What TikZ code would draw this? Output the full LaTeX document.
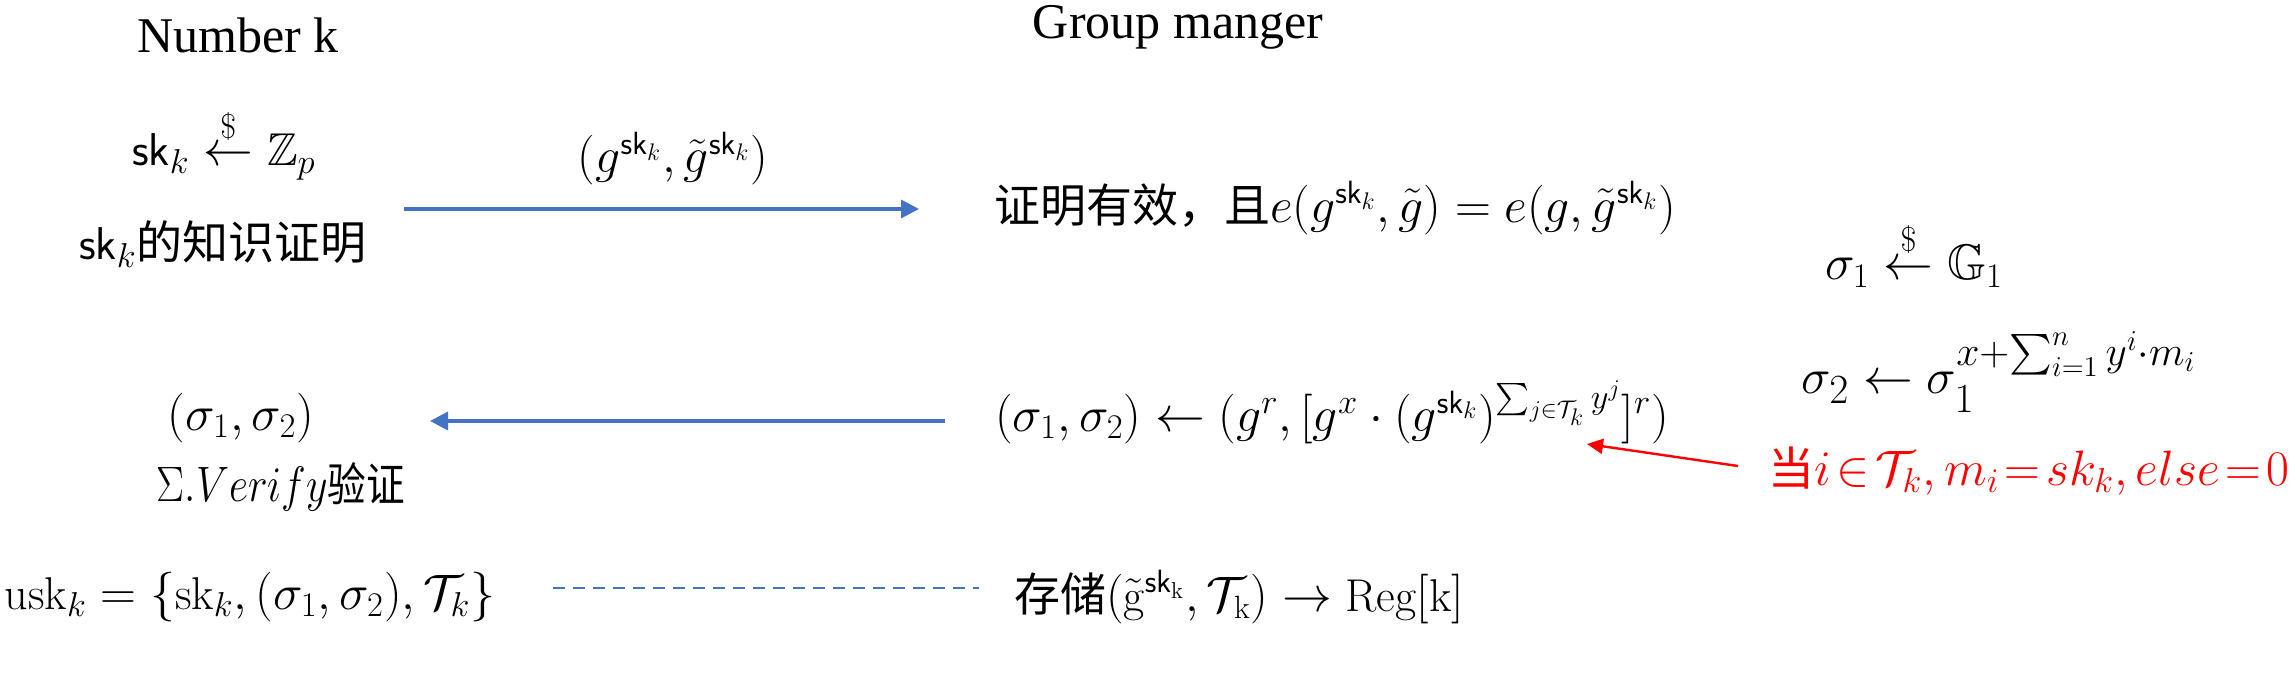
\documentclass[tikz,border=0pt]{standalone}
\usepackage{amsmath,amssymb}
\usepackage{fontspec}
\usetikzlibrary{arrows.meta}
\newfontfamily\cjk{Noto Sans CJK SC}
\newfontfamily\tnr{Liberation Serif}
\definecolor{oblue}{HTML}{4472C4}
\definecolor{ored}{HTML}{FF0000}
\tikzset{
  x=0.5pt, y=-0.5pt,
  title/.style={font=\tnr\fontsize{25}{30}\selectfont, inner sep=0pt},
  txt/.style={font=\fontsize{23}{28}\selectfont, inner sep=0pt},
  ltx/.style={font=\fontsize{25}{30}\selectfont, inner sep=0pt},
  msg/.style={draw=oblue, line width=1.7pt, -{Triangle[length=9pt,width=9pt,fill=oblue]}},
  note/.style={draw=ored, line width=1.2pt, -{Triangle[length=8pt,width=7.5pt,fill=ored]}},
  link/.style={draw=oblue, line width=1.4pt, dash pattern=on 6pt off 4pt}
}
\begin{document}
\begin{tikzpicture}
\useasboundingbox (0,0) rectangle (2294,678);
% headers
\node[title] (nk) at (238,35) {Number k};
\node[title] (gm) at (1178,27) {Group manger};
% user side
\node[txt] (skgen) at (224,144) {$\mathsf{sk}_k \stackrel{\$}{\leftarrow} \mathbb{Z}_p$};
\node[txt] (zk) at (223,244) {$\mathsf{sk}_k${\cjk 的知识证明}};
\node[txt] (sigL) at (241,418) {$(\sigma_1,\sigma_2)$};
\node[txt] (sv) at (281,487) {\scalebox{0.84}[1]{$\Sigma.Verify${\cjk 验证}}};
\node[txt] (usk) at (250,597) {$\mathrm{usk}_k=\{\mathrm{sk}_k,(\sigma_1,\sigma_2),\mathcal{T}_k\}$};
% messages
\node[txt] (pk) at (673,159) {$(g^{\mathsf{sk}_k},\tilde{g}^{\mathsf{sk}_k})$};
% manager side
\node[txt] (ver) at (1335,208) {{\cjk 证明有效，且}$e(g^{\mathsf{sk}_k},\tilde{g})=e(g,\tilde{g}^{\mathsf{sk}_k})$};
\node[txt] (sigR) at (1332,412) {$(\sigma_1,\sigma_2)\leftarrow(g^r,[g^x\cdot(g^{\mathsf{sk}_k})^{\sum_{j\in\mathcal{T}_k} y^j}]^r)$};
\node[txt] (store) at (1239,597) {{\cjk 存储}$(\tilde{\mathrm{g}}^{\mathsf{sk}_{\mathrm{k}}},\mathcal{T}_{\mathrm{k}})\rightarrow\mathrm{Reg}[\mathrm{k}]$};
\node[ltx] (s1) at (1914,254) {$\sigma_1 \stackrel{\$}{\leftarrow} \mathbb{G}_1$};
\node[ltx, font=\fontsize{29}{34}\selectfont] (s2) at (1999,372) {$\sigma_2 \leftarrow \sigma_1^{x+\sum_{i=1}^{n} y^i\cdot m_i}$};
\node[txt, text=ored] (red) at (2029,471) {{\cjk 当}$\thickmuskip=2mu i\in\mathcal{T}_k,m_i=sk_k,else=0$};
% connectors
\coordinate (a1s) at (404,209);
\coordinate (a1e) at (919,209);
\coordinate (a2s) at (945,421);
\coordinate (a2e) at (430,421);
\coordinate (a3s) at (1738,466);
\coordinate (a3e) at (1587,444);
\coordinate (d1s) at (553,588);
\coordinate (d1e) at (979,588);
\draw[msg] (a1s) -- (a1e);
\draw[msg] (a2s) -- (a2e);
\draw[note] (a3s) -- (a3e);
\draw[link] (d1s) -- (d1e);
\end{tikzpicture}
\end{document}
